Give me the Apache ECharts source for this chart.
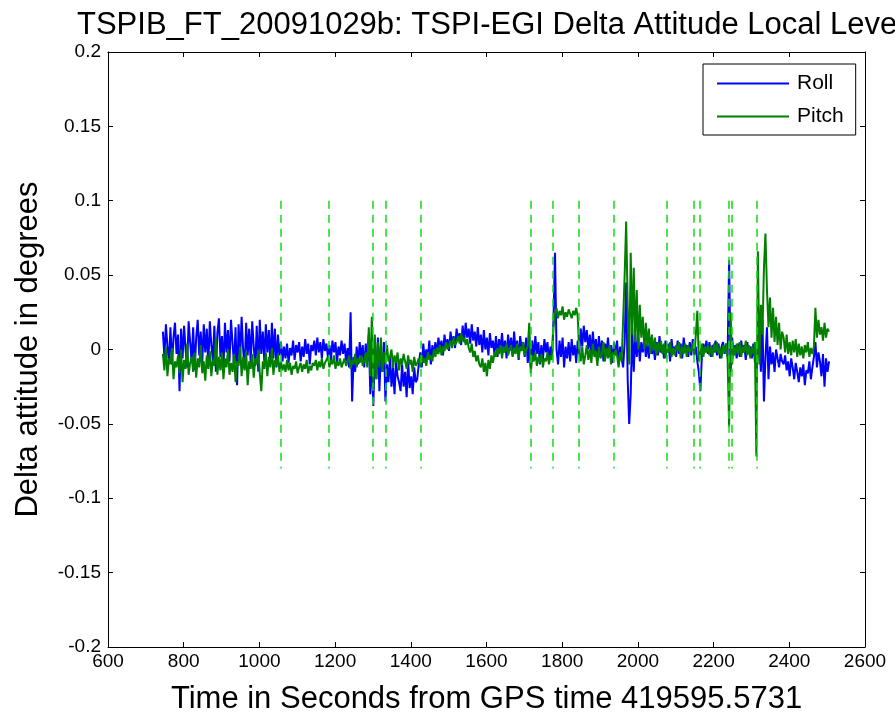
<!DOCTYPE html>
<html><head><meta charset="utf-8">
<script src="https://cdn.jsdelivr.net/npm/echarts@6/dist/echarts.min.js"></script>
<style>html,body{margin:0;padding:0;background:#fff}#c{width:895px;height:714px}</style>
</head><body><div id="c"></div>
<script>
// Sampled time axis (seconds from GPS time 419595.5731)
const tStart = 745;
const tStep = 4;
// Roll delta attitude, in millidegrees, one row = 40 s
const rollMdeg = [
 12,-5,17,2,-8,15,-10,8,18,-3,
 10,-28,14,-6,16,0,-12,19,5,-8,
 15,-14,8,20,-4,12,-9,17,-2,14,
 -11,19,3,-7,16,-15,11,21,-5,9,
 -13,18,-2,13,-8,20,4,-10,15,-24,
 17,-6,22,0,-12,18,-4,14,-9,19,
 2,-11,16,-15,20,-3,12,-8,17,-2,
 13,-10,18,-6,14,-12,10,-4,5,-8,
 2,-6,4,-9,1,-4,6,-7,3,-2,
 5,-8,2,-5,7,-3,4,-10,3,-1,
 6,-4,8,-2,5,-6,7,-1,4,-5,
 3,-7,6,-2,5,-9,2,-4,6,-3,
 4,-8,1,-12,25,-35,-5,-15,2,-10,
 5,-6,3,-12,4,-8,10,-30,-5,-38,
 2,-20,8,-28,-3,-15,5,-35,-10,-22,
 -5,-25,-12,-30,-8,-18,-22,-28,-10,-25,
 -15,-32,-8,-26,-18,-30,-12,-22,-20,-10,
 -2,-12,4,-8,0,-6,6,-10,3,-4,
 5,-3,8,0,6,-4,10,2,7,-1,
 12,4,9,1,14,6,11,3,16,5,
 18,8,14,4,17,6,12,2,15,3,
 10,-2,13,0,8,-4,11,1,6,-3,
 9,-5,7,0,11,-2,6,-6,10,-1,
 8,-4,12,-2,6,-7,9,0,5,-5,
 8,-9,4,-12,6,-6,9,-3,5,-10,
 3,-7,7,-2,5,-8,2,-5,20,65,
 0,-10,6,-5,8,-12,2,-6,5,-8,
 7,-4,3,-9,6,-3,14,2,16,5,
 13,0,10,-4,12,-2,7,-6,9,-3,
 6,-8,4,-2,8,-5,3,-9,5,-4,
 6,-10,2,-6,-12,5,45,-20,-50,-30,
 15,-15,10,-5,8,-8,5,-2,7,-5,
 4,-6,8,-3,2,-7,5,-4,9,-2,
 3,-6,6,-2,4,-8,7,-3,2,-5,
 6,-3,4,-6,8,-2,3,-5,5,-4,
 7,-3,2,-8,-15,-28,-5,4,-2,6,
 -3,5,-5,3,-2,6,-4,4,-6,2,
 5,-3,4,-5,60,-15,8,-4,3,-6,
 4,-5,6,-2,3,-7,5,-3,2,-6,
 4,-8,-10,-3,8,-15,20,-35,-5,15,
 -20,2,-10,-2,-15,0,-6,-12,-3,-8,
 -10,-4,-14,-8,-18,-6,-12,-20,-9,-15,
 -22,-12,-18,-10,-24,-14,-16,-8,-20,-12,
 -5,5,-12,-2,-8,-18,-3,-25,-6,-15,
 -8
];
// Pitch delta attitude, in millidegrees, one row = 40 s
const pitchMdeg = [
 -3,-14,2,-18,-6,-10,1,-20,-8,-12,
 -4,-16,0,-22,-7,-13,4,-17,-9,-5,
 -15,-2,-19,-6,-12,3,-16,-8,-21,-4,
 -13,-1,-18,-7,-11,8,-17,-5,-14,-2,
 -20,-6,-12,0,-17,-9,-15,-3,-22,-8,
 -11,2,-18,-5,-14,-1,-24,-8,-13,-3,
 -19,-6,-10,0,-16,-28,-8,-13,-2,-18,
 -5,-12,1,-17,-7,-11,-3,-15,-8,-14,
 -10,-15,-7,-14,-9,-17,-11,-13,-8,-16,
 -12,-9,-15,-10,-13,-7,-16,-11,-14,-9,
 -11,-7,-14,-8,-12,-6,-13,-9,-10,-5,
 -12,-7,-10,-4,-13,-8,-11,-6,-12,-9,
 -6,-11,-8,-4,-13,-7,-10,-3,-12,-6,
 -9,-4,-11,-7,-2,-12,15,-18,22,-25,
 10,-20,5,-12,8,-15,-2,-10,3,-8,
 -5,0,-12,-4,-9,-2,-14,-6,-10,-3,
 -8,-13,-4,-10,-7,-15,-5,-11,-9,-6,
 -12,-4,-9,-6,-11,-2,-7,-4,-8,0,
 -5,1,-3,3,-4,2,-1,5,0,3,
 6,1,8,3,5,9,4,11,6,8,
 3,7,1,-2,4,-5,-1,-8,-4,-10,
 -12,-6,-15,-9,-18,-7,-13,-4,-9,-2,
 -5,1,-3,3,-6,2,-2,4,-4,0,
 3,-5,1,-3,4,-6,2,-1,5,-4,
 0,2,18,-16,-4,-8,-2,-11,-5,-9,
 -3,-12,-6,-8,-2,-10,-4,-7,15,24,
 28,21,26,23,29,20,25,22,27,24,
 21,26,23,28,22,-2,-8,2,-10,-4,
 3,-7,0,-9,4,-5,-1,-11,2,-6,
 -3,5,-8,1,-6,3,-10,-2,-5,0,
 -4,-12,-2,-8,20,50,86,30,-10,65,
 10,55,5,40,0,30,8,22,0,18,
 2,14,-3,10,-1,8,-4,5,-2,6,
 -3,4,-6,2,-2,5,-5,1,-4,3,
 -1,5,-6,2,-3,4,-5,3,-2,0,
 4,-4,10,26,-8,-3,4,-5,2,-2,
 3,-4,2,-5,4,-2,5,-3,1,-6,
 3,-2,4,-6,-52,25,-10,2,-4,4,
 -3,5,-5,2,-2,6,-4,3,-6,2,
 -3,5,-72,66,-10,30,10,55,78,40,
 15,35,8,28,5,22,3,18,0,12,
 8,-2,10,-3,5,-4,6,-2,7,-5,
 4,-4,2,-6,3,-2,5,-5,1,-3,
 2,28,8,20,10,15,6,18,8,14,
 12
];
// Event markers (vertical dashed lines), seconds
const eventTimes = [1057,1184,1300,1334,1427,1718,1776,1844,1937,2077,2148,2164,2241,2249,2315];
const eventTop = 0.1, eventBottom = -0.08;

const toPairs = arr => arr.map((v,i)=>[tStart+i*tStep, v/1000]);
const font = '"Liberation Sans", Arial, sans-serif';
const chart = echarts.init(document.getElementById('c'), null, {renderer:'canvas'});
const axisCommon = {
  axisLine:{show:true,onZero:false,lineStyle:{color:'#000',width:1}},
  axisTick:{show:true,inside:true,length:5,lineStyle:{color:'#000'}},
  splitLine:{show:false}
};
chart.setOption({
  animation:false,
  backgroundColor:'#fff',
  title:{text:'TSPIB_FT_20091029b: TSPI-EGI Delta Attitude Local Level',left:72,top:5,
    textStyle:{fontFamily:font,fontSize:31,fontWeight:'normal',color:'#000'}},
  grid:{left:108,right:30,top:52,bottom:67,show:false,outerBoundsMode:'none',containLabel:false},
  legend:{
    data:['Roll','Pitch'],orient:'vertical',left:703,top:64,
    backgroundColor:'#fff',borderColor:'#000',borderWidth:1,
    padding:[9,12,8,14],itemGap:12,itemWidth:72,itemHeight:2,icon:'rect',
    textStyle:{fontFamily:font,fontSize:21,color:'#000',lineHeight:21,padding:[0,0,0,3]}
  },
  xAxis:[
    Object.assign({type:'value',min:600,max:2600,interval:200,position:'bottom',
      name:'Time in Seconds from GPS time 419595.5731',nameLocation:'middle',nameGap:37,
      nameTextStyle:{fontFamily:font,fontSize:31,color:'#000'},
      axisLabel:{fontFamily:font,fontSize:19,color:'#000',margin:5,formatter:v=>String(v)}},axisCommon),
    Object.assign({type:'value',min:600,max:2600,interval:200,position:'top',
      axisLabel:{show:false}},axisCommon)
  ],
  yAxis:[
    Object.assign({type:'value',min:-0.2,max:0.2,interval:0.05,position:'left',
      name:'Delta attitude in degrees',nameLocation:'middle',nameGap:64,
      nameTextStyle:{fontFamily:font,fontSize:31,color:'#000'},
      axisLabel:{fontFamily:font,fontSize:19,color:'#000',margin:7,
        formatter:v=>{const r=Math.round(v*100)/100;return r===0?'0':String(r);}}},axisCommon),
    Object.assign({type:'value',min:-0.2,max:0.2,interval:0.05,position:'right',
      axisLabel:{show:false}},axisCommon)
  ],
  series:[
    {name:'Roll',type:'line',data:toPairs(rollMdeg),showSymbol:false,symbol:'none',
      lineStyle:{color:'#0000ff',width:2},itemStyle:{color:'#0000ff'},z:2},
    {name:'Pitch',type:'line',data:toPairs(pitchMdeg),showSymbol:false,symbol:'none',
      lineStyle:{color:'#007f00',width:2},itemStyle:{color:'#007f00'},z:3,
      markLine:{silent:true,symbol:['none','none'],label:{show:false},z:5,
        lineStyle:{color:'#11dd11',type:[8,6],width:1.5},
        data:eventTimes.map(t=>[{coord:[t,eventTop]},{coord:[t,eventBottom]}])}}
  ]
});
</script></body></html>
